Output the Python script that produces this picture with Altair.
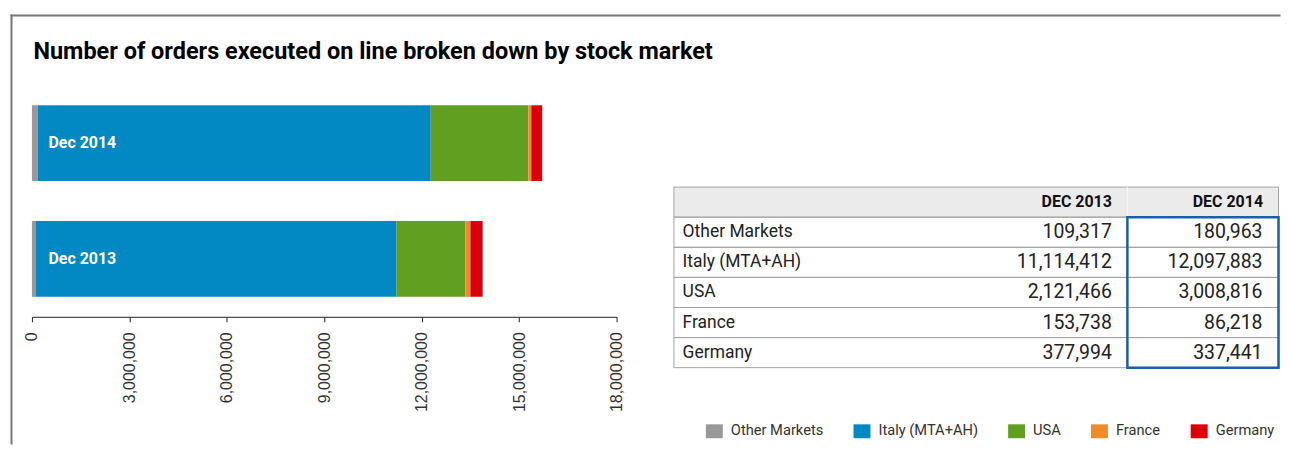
import altair as alt
import pandas as pd

# ---------------- data ----------------
markets = ["Other Markets", "Italy (MTA+AH)", "USA", "France", "Germany"]
colors = ["#999999", "#0288c2", "#619f21", "#ef8a2d", "#db0007"]
periods = ["Dec 2014", "Dec 2013"]
dec2013 = [109317, 11114412, 2121466, 153738, 377994]
dec2014 = [180963, 12097883, 3008816, 86218, 337441]
x_ticks = [0, 3000000, 6000000, 9000000, 12000000, 15000000, 18000000]
table_headers = ["DEC 2013", "DEC 2014"]
title_text = "Number of orders executed on line broken down by stock market"

NARROW = "Roboto, 'Liberation Sans', sans-serif"
REG = "'Liberation Sans', Arial, sans-serif"

# ---------------- bar chart ----------------
rows = []
for p, vals in [("Dec 2014", dec2014), ("Dec 2013", dec2013)]:
    for i, (m, v) in enumerate(zip(markets, vals)):
        rows.append({"period": p, "market": m, "value": v, "order": i})
bars_df = pd.DataFrame(rows)

ysc = alt.Scale(domain=periods, paddingInner=0.345, paddingOuter=0.172)

bars = alt.Chart(bars_df).mark_bar().encode(
    x=alt.X(
        "value:Q", stack="zero",
        scale=alt.Scale(domain=[0, 18000000], nice=False),
        axis=alt.Axis(values=x_ticks, format=",d", title=None, labelAngle=270,
                      labelAlign="right", labelBaseline="middle", labelPadding=10,
                      tickSize=5, grid=False, domainColor="#222", tickColor="#222",
                      labelColor="#333", labelFont=REG, labelFontSize=16),
    ),
    y=alt.Y("period:N", scale=ysc, axis=None),
    color=alt.Color(
        "market:N", scale=alt.Scale(domain=markets, range=colors),
        legend=alt.Legend(orient="none", legendX=675.5, legendY=338,
                          direction="horizontal", title=None, padding=0,
                          symbolType="M-1,-0.82H1V0.82H-1Z", symbolSize=289,
                          symbolStrokeWidth=0, labelFont=NARROW, labelFontSize=14.7,
                          labelColor="#333", labelOffset=8, columnPadding=30),
    ),
    order=alt.Order("order:Q"),
)

lab_df = pd.DataFrame({"period": periods})
bar_labels = alt.Chart(lab_df).mark_text(
    align="left", baseline="middle", dx=16.5, color="white",
    font=NARROW, fontWeight="bold", fontSize=16,
).encode(x=alt.datum(0), y=alt.Y("period:N", scale=ysc, axis=None), text="period:N")

one = pd.DataFrame({"k": [0]})
frame_top = alt.Chart(one).mark_rule(color="#777777", strokeWidth=2).encode(
    x=alt.value(-21.5), x2=alt.value(1251.5), y=alt.value(-70))
frame_left = alt.Chart(one).mark_rule(color="#777777", strokeWidth=2).encode(
    x=alt.value(-20.5), y=alt.value(-71), y2=alt.value(360))

title_df = pd.DataFrame({"t": [title_text]})
title_mark = alt.Chart(title_df).mark_text(
    align="left", baseline="alphabetic", font=NARROW, fontWeight="bold",
    fontSize=23.5, color="#000000",
).encode(x=alt.value(1.5), y=alt.value(-26.7), text="t:N")

left = alt.layer(frame_top, frame_left, title_mark, bars, bar_labels).properties(width=586, height=232)

# ---------------- table ----------------
cells = []
for j, h in enumerate(table_headers):
    cells.append({"r": 0, "c": 3 + j, "txt": h, "kind": "head"})
for i, m in enumerate(markets):
    cells.append({"r": i + 1, "c": 0, "txt": m, "kind": "label"})
    cells.append({"r": i + 1, "c": 3, "txt": f"{dec2013[i]:,}", "kind": "v13"})
    cells.append({"r": i + 1, "c": 4, "txt": f"{dec2014[i]:,}", "kind": "v14"})
cells_df = pd.DataFrame(cells)
rows_df = pd.DataFrame({"r": list(range(len(markets) + 1))})

tx = alt.Scale(domain=[0, 4], nice=False, zero=False)
ty = alt.Scale(domain=[-3.381, 6], nice=False, zero=False, reverse=True)

base_rows = alt.Chart(rows_df).transform_calculate(r2="datum.r + 1")

header_bg = base_rows.transform_filter("datum.r == 0").mark_rect(fill="#ebebeb").encode(
    x=alt.X(datum=0, scale=tx, axis=None), x2=alt.datum(4),
    y=alt.Y("r:Q", scale=ty, axis=None), y2="r2:Q")

row_lines = base_rows.mark_rect(fillOpacity=0, stroke="#a3a3a3", strokeWidth=1).encode(
    x=alt.X(datum=0, scale=tx, axis=None), x2=alt.datum(4),
    y=alt.Y("r:Q", scale=ty, axis=None), y2="r2:Q")

head_sep = base_rows.transform_filter("datum.r == 0").mark_rule(color="#f8f8f8", strokeWidth=1).encode(
    x=alt.X(datum=3, scale=tx, axis=None),
    y=alt.Y("r:Q", scale=ty, axis=None), y2="r2:Q")

blue_box = alt.Chart(one).mark_rect(fillOpacity=0, stroke="#1b60a6", strokeWidth=2.5).encode(
    x=alt.X(datum=3, scale=tx, axis=None), x2=alt.datum(4),
    y=alt.Y(datum=1, scale=ty, axis=None), y2=alt.datum(6))

tbase = alt.Chart(cells_df).transform_calculate(ym="datum.r + 0.5")

t_labels = tbase.transform_filter("datum.kind == 'label'").mark_text(
    align="left", baseline="middle", dx=8.7, font=NARROW, fontSize=17.5, color="#222").encode(
    x=alt.X("c:Q", scale=tx, axis=None), y=alt.Y("ym:Q", scale=ty, axis=None), text="txt:N")
t_v13 = tbase.transform_filter("datum.kind == 'v13'").mark_text(
    align="right", baseline="middle", dx=-15.5, font=NARROW, fontSize=19.5, color="#222").encode(
    x=alt.X("c:Q", scale=tx, axis=None), y=alt.Y("ym:Q", scale=ty, axis=None), text="txt:N")
t_v14 = tbase.transform_filter("datum.kind == 'v14'").mark_text(
    align="right", baseline="middle", dx=-16, font=NARROW, fontSize=19.5, color="#222").encode(
    x=alt.X("c:Q", scale=tx, axis=None), y=alt.Y("ym:Q", scale=ty, axis=None), text="txt:N")
t_head = tbase.transform_filter("datum.kind == 'head'").mark_text(
    align="right", baseline="middle", dx=-15.5, font=NARROW, fontSize=16, fontWeight="bold",
    color="#111").encode(
    x=alt.X("c:Q", scale=tx, axis=None), y=alt.Y("ym:Q", scale=ty, axis=None), text="txt:N")

right = alt.layer(header_bg, row_lines, head_sep, blue_box, t_labels, t_v13, t_v14, t_head).properties(
    width=606, height=283)

chart = alt.hconcat(left, right, spacing=57.5, bounds="flush").resolve_scale(
    x="independent", y="independent", color="independent"
).properties(
    padding={"left": 1, "top": 5, "right": 0, "bottom": 0},
).configure_view(stroke=None)

chart.save("out.html", embed_options={"renderer": "svg", "actions": False})
